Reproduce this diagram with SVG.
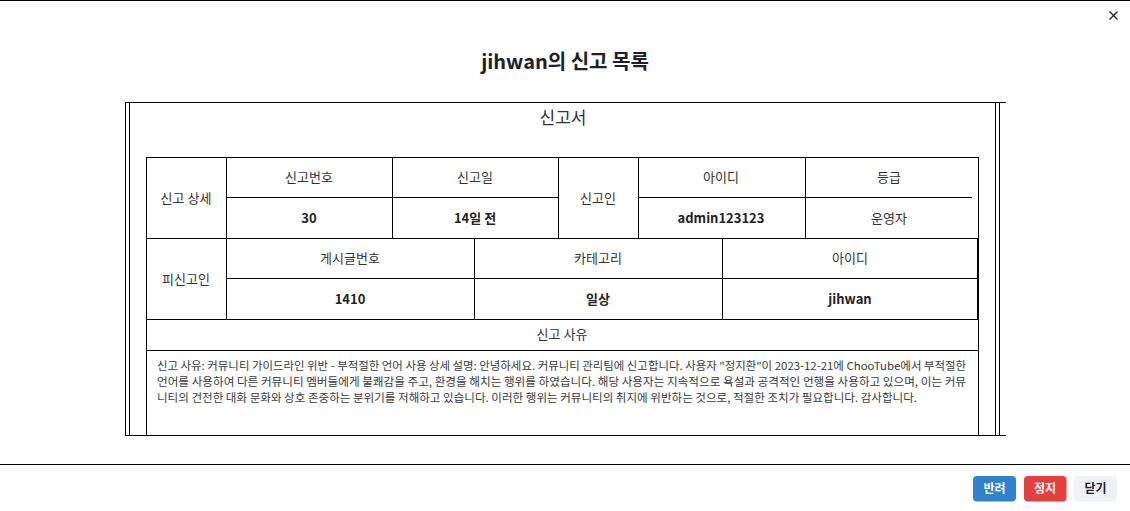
<svg xmlns="http://www.w3.org/2000/svg" width="1130" height="511" viewBox="0 0 1130 511">
<style>
.ln{stroke:#000;stroke-width:1;fill:none}
.t{font-family:"Noto Sans CJK KR","Noto Sans",sans-serif;fill:#333;text-anchor:middle}
.h{font-size:13px}
.v{font-size:13px;font-weight:bold;fill:#222}
.body{font-family:"Noto Sans CJK KR","Noto Sans",sans-serif;font-size:11px;fill:#3a3a3a}
.btn{font-family:"Noto Sans CJK KR","Noto Sans",sans-serif;font-size:12px;font-weight:bold;text-anchor:middle}
</style>
<rect x="0" y="0" width="1130" height="511" fill="#fff"/>
<g id="modal-frame">
<line class="ln" x1="0" y1="0.5" x2="1130" y2="0.5"/>
<line class="ln" x1="0" y1="464.5" x2="1130" y2="464.5"/>
<path d="M1109.5 11.5 L1117.5 19.5 M1117.5 11.5 L1109.5 19.5" stroke="#222" stroke-width="1.3"/>
<text x="565" y="69" font-family="'Noto Sans CJK KR','Noto Sans',sans-serif" font-size="20" font-weight="bold" fill="#1a202c" text-anchor="middle">jihwan의 신고 목록</text>
</g>
<g id="report-box">
<line class="ln" x1="125.5" y1="102.5" x2="1006" y2="102.5"/>
<line class="ln" x1="125.5" y1="435.5" x2="1006" y2="435.5"/>
<line class="ln" x1="125.5" y1="102" x2="125.5" y2="436"/>
<line class="ln" x1="129.5" y1="102" x2="129.5" y2="436"/>
<line class="ln" x1="995.5" y1="102" x2="995.5" y2="436"/>
<line class="ln" x1="999.5" y1="102" x2="999.5" y2="436"/>
<text class="t" x="563" y="124" font-size="17">신고서</text>
</g>
<g id="table-lines">
<line class="ln" x1="146.5" y1="157.5" x2="978.5" y2="157.5"/>
<line class="ln" x1="226" y1="197.5" x2="558" y2="197.5"/>
<line class="ln" x1="638" y1="197.5" x2="972" y2="197.5"/>
<line class="ln" x1="146.5" y1="238.5" x2="978.5" y2="238.5"/>
<line class="ln" x1="226" y1="278.5" x2="978" y2="278.5"/>
<line class="ln" x1="146.5" y1="319.5" x2="978.5" y2="319.5"/>
<line class="ln" x1="146.5" y1="350.5" x2="978.5" y2="350.5"/>
<line class="ln" x1="146.5" y1="157" x2="146.5" y2="436"/>
<line class="ln" x1="978.5" y1="157" x2="978.5" y2="436"/>
<line class="ln" x1="977.5" y1="238" x2="977.5" y2="320"/>
<line class="ln" x1="226.5" y1="157" x2="226.5" y2="320"/>
<line class="ln" x1="392.5" y1="157" x2="392.5" y2="239"/>
<line class="ln" x1="558.5" y1="157" x2="558.5" y2="239"/>
<line class="ln" x1="638.5" y1="157" x2="638.5" y2="239"/>
<line class="ln" x1="805.5" y1="157" x2="805.5" y2="239"/>
<line class="ln" x1="474.5" y1="238" x2="474.5" y2="320"/>
<line class="ln" x1="722.5" y1="238" x2="722.5" y2="320"/>
</g>
<g id="reporter-section">
<text class="t h" x="186" y="203">신고 상세</text>
<text class="t h" x="309" y="182">신고번호</text>
<text class="t h" x="475" y="182">신고일</text>
<text class="t v" x="309" y="223">30</text>
<text class="t v" x="475" y="223">14일 전</text>
<text class="t h" x="598" y="203">신고인</text>
<text class="t h" x="721" y="182">아이디</text>
<text class="t h" x="889" y="182">등급</text>
<text class="t v" x="721" y="223">admin123123</text>
<text class="t h" x="889" y="223" fill="#222">운영자</text>
</g>
<g id="reported-section">
<text class="t h" x="186" y="284">피신고인</text>
<text class="t h" x="350" y="263">게시글번호</text>
<text class="t h" x="598" y="263">카테고리</text>
<text class="t h" x="850" y="263">아이디</text>
<text class="t v" x="350" y="304">1410</text>
<text class="t v" x="598" y="304">일상</text>
<text class="t v" x="850" y="304">jihwan</text>
</g>
<g id="reason-section">
<text class="t h" x="562" y="339">신고 사유</text>
<text class="body" x="157" y="370" textLength="809" lengthAdjust="spacingAndGlyphs">신고 사유: 커뮤니티 가이드라인 위반 - 부적절한 언어 사용 상세 설명: 안녕하세요. 커뮤니티 관리팀에 신고합니다. 사용자 "정지환"이 2023-12-21에 ChooTube에서 부적절한</text>
<text class="body" x="157" y="386" textLength="809" lengthAdjust="spacingAndGlyphs">언어를 사용하여 다른 커뮤니티 멤버들에게 불쾌감을 주고, 환경을 해치는 행위를 하였습니다. 해당 사용자는 지속적으로 욕설과 공격적인 언행을 사용하고 있으며, 이는 커뮤</text>
<text class="body" x="157" y="402" textLength="760" lengthAdjust="spacingAndGlyphs">니티의 건전한 대화 문화와 상호 존중하는 분위기를 저해하고 있습니다. 이러한 행위는 커뮤니티의 취지에 위반하는 것으로, 적절한 조치가 필요합니다. 감사합니다.</text>
</g>
<g id="btn-reject">
<rect x="973" y="476" width="43" height="25.5" rx="4" fill="#3182ce"/>
<text class="btn" x="994.5" y="493" fill="#fff">반려</text>
</g>
<g id="btn-suspend">
<rect x="1024" y="476" width="42.5" height="25.5" rx="4" fill="#e53e3e"/>
<text class="btn" x="1045" y="493" fill="#fff">정지</text>
</g>
<g id="btn-close">
<rect x="1074" y="476" width="43" height="25.5" rx="4" fill="#edf2f7"/>
<text class="btn" x="1095.5" y="493" fill="#1a202c">닫기</text>
</g>
</svg>
